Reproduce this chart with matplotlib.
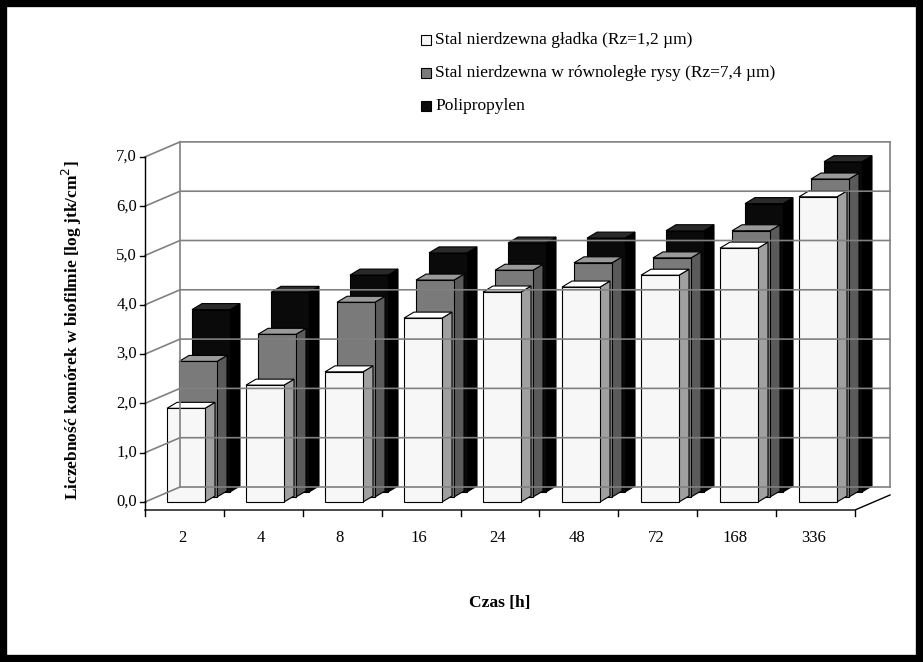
import matplotlib.pyplot as plt
from matplotlib.patches import Polygon, Rectangle

categories = ["2", "4", "8", "16", "24", "48", "72", "168", "336"]
gladka = [1.90, 2.37, 2.64, 3.73, 4.26, 4.36, 4.60, 5.15, 6.19]
rysy = [2.75, 3.30, 3.95, 4.40, 4.60, 4.75, 4.85, 5.40, 6.45]
pp = [3.70, 4.05, 4.40, 4.85, 5.05, 5.15, 5.30, 5.85, 6.70]
y_ticks = [0, 1, 2, 3, 4, 5, 6, 7]
legend_labels = ["Stal nierdzewna gładka (Rz=1,2 µm)",
                 "Stal nierdzewna w równoległe rysy (Rz=7,4 µm)",
                 "Polipropylen"]

# geometria rzutu (piksele)
X0, Y0 = 145, 502      # lewy przedni róg podłogi
XR = 855               # prawy przedni róg
DX, DY = 35, -15       # głębia ściany tylnej
PPU = 49.3             # pikseli na jednostkę
STEP = 79
FIRST = 186
BW, SDX, SDY = 38, 10, -6

def vy(v, base=Y0):
    return base - v * PPU

fig = plt.figure(figsize=(9.23, 6.62), dpi=100)
ax = fig.add_axes([0, 0, 1, 1])
ax.set_xlim(0, 923)
ax.set_ylim(662, 0)
ax.axis("off")
ax.add_patch(Rectangle((3, 3), 917, 656, fill=False, lw=6, ec="black"))

serif = "Liberation Serif"
gc = "#808080"
for t in y_ticks:
    y = vy(t)
    ax.plot([X0, X0 + DX, XR + DX], [y, y + DY, y + DY], color=gc, lw=1.2)
    ax.plot([X0 - 5, X0], [y, y], color="black", lw=1)
    ax.text(X0 - 8, y, f"{t},0", ha="right", va="center", fontsize=12, family=serif)
# ściany
ax.plot([X0, X0], [vy(0), vy(7)], color="black", lw=1)
ax.plot([X0 + DX, X0 + DX], [vy(0) + DY, vy(7) + DY], color=gc, lw=1.2)
ax.plot([XR + DX, XR + DX], [vy(0) + DY, vy(7) + DY], color=gc, lw=1.2)
# podłoga
ax.plot([X0, XR, XR + DX], [Y0 + 8, Y0 + 8, Y0 + 8 + DY], color="black", lw=1)
ax.plot([X0, X0], [Y0, Y0 + 8], color="black", lw=1)
for i in range(len(categories) + 1):
    x = X0 + i * (XR - X0) / len(categories)
    ax.plot([x, x], [Y0 + 8, Y0 + 14], color="black", lw=1)

def bar3d(x, base, v, front, side, top):
    yt = vy(v, base)
    ax.add_patch(Polygon([(x + BW, base), (x + BW + SDX, base + SDY),
                          (x + BW + SDX, yt + SDY), (x + BW, yt)],
                         closed=True, fc=side, ec="black", lw=0.8))
    ax.add_patch(Polygon([(x, yt), (x + SDX, yt + SDY), (x + BW + SDX, yt + SDY),
                          (x + BW, yt)], closed=True, fc=top, ec="black", lw=0.8))
    ax.add_patch(Rectangle((x, yt), BW, base - yt, fc=front, ec="black", lw=0.8))

for i, lab in enumerate(categories):
    c = FIRST + i * STEP
    bar3d(c - 19 + 25, Y0 - 10, pp[i], "#0a0a0a", "#000000", "#2a2a2a")
    bar3d(c - 19 + 12, Y0 - 5, rysy[i], "#7a7a7a", "#5a5a5a", "#9a9a9a")
    bar3d(c - 19, Y0, gladka[i], "#f7f7f7", "#a0a0a0", "#ffffff")
    ax.text(c - 4, 538, lab, ha="center", va="center", fontsize=12, family=serif)

ax.text(72, 330, "Liczebność komórek w biofilmie [log jtk/cm$^2$]", rotation=90,
        ha="center", va="center", fontsize=12.5, weight="bold", family=serif)
ax.text(500, 603, "Czas [h]", ha="center", va="center", fontsize=12.5,
        weight="bold", family=serif)

fills = ["#f7f7f7", "#7a7a7a", "#0a0a0a"]
for k, (lab, f) in enumerate(zip(legend_labels, fills)):
    y = 40 + k * 33
    ax.add_patch(Rectangle((421, y - 5), 10, 10, fc=f, ec="black", lw=0.8))
    ax.text(435, y, lab, ha="left", va="center", fontsize=12.5, family=serif)

fig.savefig("out.png", dpi=100)
